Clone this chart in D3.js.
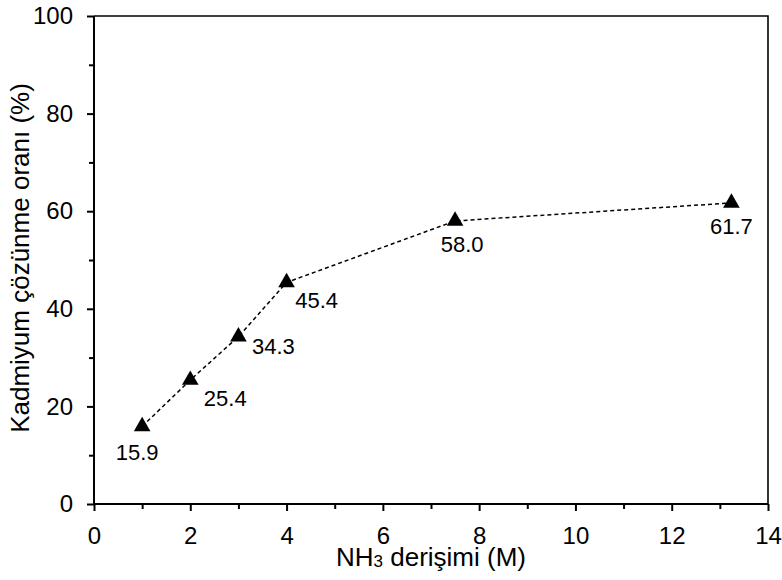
<!DOCTYPE html>
<html>
<head>
<meta charset="utf-8">
<script src="https://cdn.jsdelivr.net/npm/d3@7"></script>
<style>
  body { margin: 0; background: #fff; }
  svg text { font-family: "Liberation Sans", Arial, sans-serif; fill: #000; }
</style>
</head>
<body>
<div id="chart"></div>
<script>
// data
const concentrations = [1, 2, 3, 4, 7.5, 13.24];
const dissolution = [15.9, 25.4, 34.3, 45.4, 58.0, 61.7];
const xMajorTicks = [0, 2, 4, 6, 8, 10, 12, 14];
const xMinorTicks = [1, 3, 5, 7, 9, 11, 13];
const yMajorTicks = [0, 20, 40, 60, 80, 100];
const yMinorTicks = [10, 30, 50, 70, 90];

// where each value label sits relative to its marker (px)
const labelDx = [-5, 35, 35, 30, 7, 0];
const labelDy = [26, 18, 10, 18, 23, 23];

const width = 782, height = 580;
const margin = { top: 16, right: 14, bottom: 76, left: 94 };

const svg = d3.select("#chart").append("svg")
    .attr("width", width)
    .attr("height", height);

const x = d3.scaleLinear().domain([0, 14]).range([margin.left, width - margin.right]);
const y = d3.scaleLinear().domain([0, 100]).range([height - margin.bottom, margin.top]);

// frame (top and right)
svg.append("path")
    .attr("d", "M" + x(0) + "," + y(100) + "H" + x(14) + "V" + y(0))
    .attr("fill", "none")
    .attr("stroke", "#000")
    .attr("stroke-width", 1.6);

// x axis
const xAxis = svg.append("g")
    .attr("transform", "translate(0," + y(0) + ")")
    .call(d3.axisBottom(x).tickValues(xMajorTicks).tickSize(7).tickPadding(16).tickFormat(d3.format("d")));
svg.append("g")
    .attr("transform", "translate(0," + y(0) + ")")
    .call(d3.axisBottom(x).tickValues(xMinorTicks).tickSize(5).tickFormat(""))
    .call(g => g.select(".domain").remove());

// y axis
const yAxis = svg.append("g")
    .attr("transform", "translate(" + x(0) + ",0)")
    .call(d3.axisLeft(y).tickValues(yMajorTicks).tickSize(7).tickPadding(14).tickFormat(d3.format("d")));
svg.append("g")
    .attr("transform", "translate(" + x(0) + ",0)")
    .call(d3.axisLeft(y).tickValues(yMinorTicks).tickSize(5).tickFormat(""))
    .call(g => g.select(".domain").remove());

svg.selectAll(".domain").attr("stroke-width", 2);
svg.selectAll(".tick line").attr("stroke-width", 2);
svg.selectAll(".tick text").attr("font-size", 24).attr("font-family", null);
// plain axis lines, no outer ticks
xAxis.select(".domain").attr("d", "M" + x(0) + ",0H" + x(14));
yAxis.select(".domain").attr("d", "M0," + y(0) + "V" + y(100));

// dashed line
const line = d3.line()
    .x((d, i) => x(concentrations[i]))
    .y(d => y(d));

svg.append("path")
    .datum(dissolution)
    .attr("d", line)
    .attr("fill", "none")
    .attr("stroke", "#000")
    .attr("stroke-width", 1.5)
    .attr("stroke-dasharray", "4,3");

// triangle markers
svg.selectAll(".marker")
    .data(dissolution)
    .enter().append("path")
    .attr("class", "marker")
    .attr("d", d3.symbol().type(d3.symbolTriangle).size(120))
    .attr("transform", (d, i) => "translate(" + x(concentrations[i]) + "," + y(d) + ")")
    .attr("fill", "#000");

// value labels
svg.selectAll(".vlabel")
    .data(dissolution)
    .enter().append("text")
    .attr("class", "vlabel")
    .attr("x", (d, i) => x(concentrations[i]) + labelDx[i])
    .attr("y", (d, i) => y(d) + labelDy[i])
    .attr("dy", "0.35em")
    .attr("text-anchor", "middle")
    .attr("font-size", 22)
    .text(d => d.toFixed(1));

// axis titles
const xt = svg.append("text")
    .attr("x", (x(0) + x(14)) / 2)
    .attr("y", 566)
    .attr("text-anchor", "middle")
    .attr("font-size", 26);
xt.append("tspan").text("NH");
xt.append("tspan").attr("font-size", 17).attr("dy", 1).text("3");
xt.append("tspan").attr("dy", -1).text(" derişimi (M)");

svg.append("text")
    .attr("transform", "translate(29,258) rotate(-90)")
    .attr("text-anchor", "middle")
    .attr("font-size", 26)
    .text("Kadmiyum çözünme oranı (%)");
</script>
</body>
</html>
